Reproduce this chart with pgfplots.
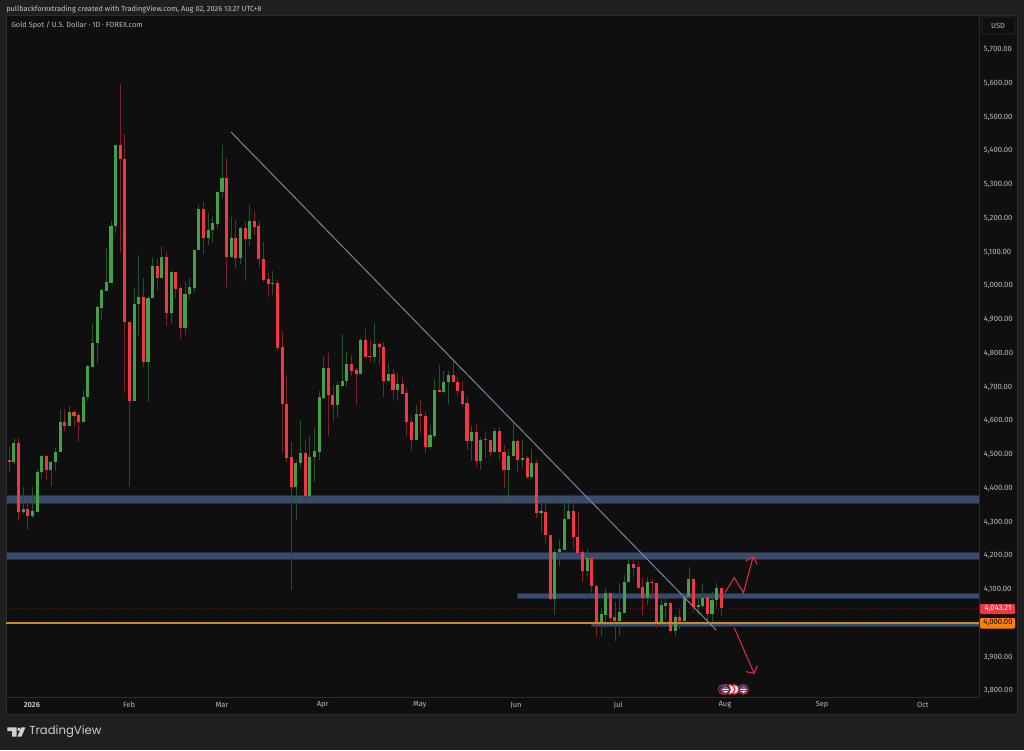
\documentclass[border=0pt]{standalone}
\usepackage{fontspec}
\usepackage{pgfplots}
\usepackage{pgfplotstable}
\pgfplotsset{compat=1.18}
\setmainfont{Fira Sans}
\newfontfamily\logofont{Poppins}
\definecolor{outerbg}{HTML}{1F1F1F}
\definecolor{innerbg}{HTML}{0F0F0F}
\definecolor{sepcol}{HTML}{2C2C2C}
\definecolor{lab}{HTML}{B8BBC2}
\definecolor{upb}{HTML}{43A047}
\definecolor{dnb}{HTML}{F23645}
\definecolor{upw}{HTML}{24522A}
\definecolor{dnw}{HTML}{7E2029}
\definecolor{band}{HTML}{3A4C69}
\definecolor{bandedge}{HTML}{20304C}
\definecolor{orl}{HTML}{C98A1C}
\definecolor{trend}{HTML}{7A8699}
\definecolor{arrowc}{HTML}{D8303C}
\definecolor{flagb}{HTML}{3D7CC9}
\definecolor{flagw}{HTML}{F1E4E6}
\definecolor{flagr}{HTML}{C4283A}
\definecolor{flagp}{HTML}{8A3FB0}
\pgfplotstableread{
i o c h l
-1 4441 4481 4481 4441
1 4477 4532 4548 4470
3 4330 4338 4404 4322
5 4317 4331 4402 4310
6 4330 4448 4455 4330
7 4447 4493 4497 4427
9 4453 4478 4481 4407
10 4477 4507 4517 4451
11 4506 4595 4631 4506
13 4583 4626 4643 4583
16 4594 4669 4690 4594
17 4668 4762 4764 4658
18 4759 4830 4887 4757
19 4829 4935 4939 4771
20 4933 4985 4988 4897
21 4983 5009 5110 4983
22 5008 5176 5189 5008
23 5176 5415 5415 5156
27 4658 4945 4992 4658
28 4945 4964 5089 4851
30 4774 4962 4968 4655
31 4961 5056 5085 4961
33 5021 5083 5117 5021
35 4919 5040 5043 4885
38 4875 4975 5009 4853
39 4973 4994 5021 4959
40 4993 5105 5105 4981
41 5105 5226 5238 5105
43 5140 5164 5213 5119
44 5163 5184 5205 5129
45 5183 5276 5278 5166
46 5276 5319 5417 5258
48 5085 5139 5203 5085
50 5080 5170 5174 5062
52 5136 5191 5237 5117
57 5004 5006 5042 4971
62 4404 4475 4483 4305
63 4473 4504 4601 4455
65 4376 4492 4554 4372
66 4490 4509 4579 4416
67 4507 4668 4687 4483
68 4666 4756 4792 4662
71 4646 4705 4718 4607
72 4703 4718 4855 4700
73 4717 4766 4801 4700
76 4737 4839 4843 4737
79 4788 4826 4889 4769
82 4718 4737 4771 4718
84 4690 4708 4739 4658
88 4542 4620 4645 4542
91 4521 4556 4585 4514
92 4554 4689 4722 4547
94 4683 4714 4747 4680
95 4714 4734 4747 4648
100 4538 4566 4583 4480
102 4480 4543 4550 4453
105 4505 4569 4576 4505
108 4453 4494 4515 4367
109 4493 4539 4598 4493
111 4483 4488 4542 4463
113 4431 4474 4515 4425
115 4327 4331 4352 4267
118 4070 4210 4219 4024
119 4210 4218 4246 4169
120 4217 4308 4367 4217
121 4307 4331 4354 4307
125 4154 4191 4219 4137
128 3999 4025 4043 3961
129 4024 4088 4103 3984
132 4005 4031 4115 3961
133 4030 4122 4142 4030
134 4122 4175 4196 4122
138 4075 4122 4137 4053
141 3996 4052 4078 3989
142 4050 4058 4078 4011
144 3975 4019 4024 3959
146 4006 4078 4081 4006
147 4077 4129 4165 4077
149 4046 4052 4078 4023
150 4050 4075 4115 4046
152 4026 4068 4093 3999
153 4068 4104 4119 4048
}\upcandles
\pgfplotstableread{
i o c h l
0 4483 4477 4524 4448
2 4532 4330 4548 4302
4 4338 4317 4372 4275
8 4493 4453 4497 4423
12 4595 4583 4633 4568
14 4626 4614 4631 4581
15 4615 4594 4621 4537
24 5415 5374 5596 5097
25 5375 4891 5447 4682
26 4891 4658 4891 4404
29 4964 4774 5022 4759
32 5056 5022 5077 4986
34 5083 4919 5099 4878
36 5039 4990 5040 4962
37 4991 4875 5001 4840
42 5226 5140 5247 5093
47 5319 5085 5377 4996
49 5139 5080 5194 5050
51 5170 5136 5191 5014
53 5191 5174 5220 5149
54 5175 5077 5191 5053
55 5077 5016 5127 5010
56 5018 5004 5036 4966
58 5006 4814 5016 4806
59 4816 4648 4866 4504
60 4649 4489 4734 4478
61 4490 4404 4535 4097
64 4504 4376 4542 4351
69 4756 4674 4799 4555
70 4674 4646 4705 4599
74 4766 4747 4794 4732
75 4748 4737 4754 4645
77 4839 4789 4870 4787
78 4791 4787 4838 4774
80 4826 4817 4828 4763
81 4817 4718 4832 4668
83 4737 4690 4753 4664
85 4707 4679 4729 4678
86 4680 4595 4700 4555
87 4595 4542 4609 4510
89 4620 4613 4660 4562
90 4613 4521 4626 4502
93 4689 4683 4764 4683
96 4734 4714 4777 4714
97 4714 4687 4727 4670
98 4687 4649 4718 4641
99 4651 4539 4670 4512
101 4566 4480 4589 4463
103 4545 4541 4569 4488
104 4542 4505 4544 4492
106 4569 4506 4579 4483
107 4507 4453 4527 4401
110 4540 4483 4544 4447
112 4488 4431 4494 4425
114 4474 4327 4483 4312
116 4329 4259 4364 4236
117 4259 4070 4259 4068
122 4331 4254 4381 4218
123 4254 4208 4329 4204
124 4210 4154 4216 4121
126 4192 4109 4194 4088
127 4110 3997 4112 3959
130 4088 4016 4088 4007
131 4017 4005 4063 3945
135 4175 4164 4201 4137
136 4165 4104 4179 4100
137 4105 4075 4132 4021
139 4122 4118 4129 4078
140 4119 3996 4119 3986
143 4058 3976 4063 3971
145 4017 4007 4040 3983
148 4129 4046 4131 4033
151 4076 4026 4080 3999
154 4104 4043.21 4104 4021
}\dncandles
\begin{document}
\begin{tikzpicture}[x=0.75pt,y=0.75pt]
\path[use as bounding box] (0,0) rectangle (1024,750);
\fill[outerbg] (0,0) rectangle (1024,750);
\fill[innerbg] (6,36) rectangle (1017,734);
\draw[sepcol,line width=0.75pt] (6,36) rectangle (1017,734);
\begin{axis}[
  scale only axis, width=729.75pt, height=510.75pt,
  at={(4.5pt,39.75pt)}, anchor=south west,
  xmin=-0.714, xmax=209.75, ymin=3780.6, ymax=5797.7,
  axis line style={draw=sepcol,line width=0.75pt},
  major tick length=0pt, tick style={draw=none},
  ytick={3800,3900,4100,4200,4300,4400,4500,4600,4700,4800,4900,5000,5100,5200,5300,5400,5500,5600,5700},
  yticklabel pos=right,
  /pgf/number format/assume math mode=true,
  /pgf/number format/fixed, /pgf/number format/fixed zerofill, /pgf/number format/precision=2,
  /pgf/number format/1000 sep={,},
  scaled y ticks=false,
  yticklabel style={font=\fontsize{5.8}{6.5}\selectfont, text=lab, inner sep=0pt, anchor=west, xshift=3.5pt, yshift=-0.4pt},
  xtick={4.9,25.9,46,67.8,88.8,109.6,131.7,154.8,175.8,197.6},
  xticklabels={\textbf{2026},Feb,Mar,Apr,May,Jun,Jul,Aug,Sep,Oct},
  xticklabel style={font=\fontsize{5.6}{6.5}\selectfont, text=lab, inner sep=0pt, anchor=center, yshift=-6pt},
  clip=true,
]
% zones
\addplot[fill=band,draw=bandedge,line width=0.6pt] coordinates {(-0.714,4354)(209.75,4354)(209.75,4378)(-0.714,4378)} -- cycle;
\addplot[fill=band,draw=bandedge,line width=0.6pt] coordinates {(-0.714,4189)(209.75,4189)(209.75,4208)(-0.714,4208)} -- cycle;
\addplot[fill=band,draw=bandedge,line width=0.6pt] coordinates {(110,4073)(209.75,4073)(209.75,4088)(110,4088)} -- cycle;
\addplot[fill=band,draw=bandedge,line width=0.6pt] coordinates {(126,3989)(209.75,3989)(209.75,4000)(126,4000)} -- cycle;
% last-price dotted line
\addplot[dnw!75!innerbg,line width=0.45pt,dotted] coordinates {(-0.714,4043.21)(209.75,4043.21)};
% wicks
\addplot[draw=none,mark=none,forget plot,error bars/.cd,y dir=plus,y explicit,error mark=none,error bar style={upw,line width=0.6pt}]
  table[x=i,y=l,y error plus expr=\thisrow{h}-\thisrow{l}] {\upcandles};
\addplot[draw=none,mark=none,forget plot,error bars/.cd,y dir=plus,y explicit,error mark=none,error bar style={dnw,line width=0.6pt}]
  table[x=i,y=l,y error plus expr=\thisrow{h}-\thisrow{l}] {\dncandles};
% bodies
\addplot[draw=none,mark=none,forget plot,error bars/.cd,y dir=plus,y explicit,error mark=none,error bar style={upb,line width=2.3pt}]
  table[x=i,y=o,y error plus expr=\thisrow{c}-\thisrow{o}] {\upcandles};
\addplot[draw=none,mark=none,forget plot,error bars/.cd,y dir=plus,y explicit,error mark=none,error bar style={dnb,line width=2.3pt}]
  table[x=i,y=c,y error plus expr=\thisrow{o}-\thisrow{c}] {\dncandles};
% orange level
\addplot[orl,line width=1pt] coordinates {(-0.714,4000)(209.75,4000)};
% trend line
\addplot[trend,line width=0.75pt] coordinates {(47.96,5454)(152.9,3979)};
% arrows
\addplot[arrowc,line width=0.8pt] coordinates {(154.8,4089.7)(156.8,4134.1)(158.8,4089.7)(160.9,4196.3)};
\addplot[arrowc,line width=0.8pt] coordinates {(159.3,4183.5)(160.9,4196.3)(161.8,4173.6)};
\addplot[arrowc,line width=0.8pt] coordinates {(156.8,3986)(161.1,3850.8)};
\addplot[arrowc,line width=0.8pt] coordinates {(159.3,3855.7)(161.1,3850.8)(161.8,3873.5)};
% event flags
\addplot[only marks,mark=*,mark size=3.6pt,mark options={fill=innerbg,draw=flagp,line width=0.6pt}] coordinates {(154.4,3803)};
\addplot[only marks,mark=*,mark size=3.6pt,mark options={fill=flagw,draw=flagr,line width=0.9pt}] coordinates {(156.8,3803)(155.9,3803)};
\addplot[only marks,mark=*,mark size=3.6pt,mark options={fill=flagw,draw=flagr,line width=0.9pt}] coordinates {(158.8,3803)(154.9,3803)};
\addplot[only marks,mark=halfcircle*,mark size=2.9pt,mark options={fill=flagb,draw=none}] coordinates {(158.8,3803)(154.9,3803)};
\addplot[only marks,mark=-,mark size=2.6pt,mark options={draw=flagr,line width=0.5pt}] coordinates {(158.8,3800)(154.9,3800)};
\end{axis}
% header texts
\node[anchor=west,inner sep=0pt,text=lab!85!white,font=\fontsize{5.55}{6}\selectfont] at (6,741) {pullbackforextrading created with TradingView.com, Aug 02, 2026 13:27 UTC+8};
\node[anchor=west,inner sep=0pt,text=lab,font=\fontsize{5.55}{6}\selectfont] at (11,725) {Gold Spot / U.S. Dollar · 1D · FOREX.com};
% USD box
\draw[sepcol,line width=0.6pt,rounded corners=1.5pt] (982,716) rectangle (1015,733);
\node[anchor=center,inner sep=0pt,text=lab,font=\fontsize{5.6}{6}\selectfont] at (998,724) {USD};
% price tags
\fill[dnb,rounded corners=0.8pt] (980,136) rectangle (1015,146);
\node[anchor=center,inner sep=0pt,text=white,font=\fontsize{5.8}{6}\selectfont] at (998,141) {4,043.21};
\fill[orange!100!black,rounded corners=0.8pt] (980,121.5) rectangle (1015,132);
\node[anchor=center,inner sep=0pt,text=black,font=\fontsize{5.8}{6}\selectfont] at (998,127) {4,000.00};
% logo
\fill[lab!70!white] (7.3,22.7) -- (16.5,22.7) -- (16.5,13.5) -- (12,13.5) -- (12,18.8) -- (7.3,18.8) -- cycle;
\fill[lab!70!white] (19,20.7) circle (1.9);
\fill[lab!70!white] (21.3,22.7) -- (25.4,22.7) -- (21.6,13.5) -- (17.4,13.5) -- cycle;
\node[anchor=west,inner sep=0pt,text=lab!70!white,font=\logofont\fontsize{8.75}{10}\selectfont] at (29,18) {TradingView};
\end{tikzpicture}
\end{document}
